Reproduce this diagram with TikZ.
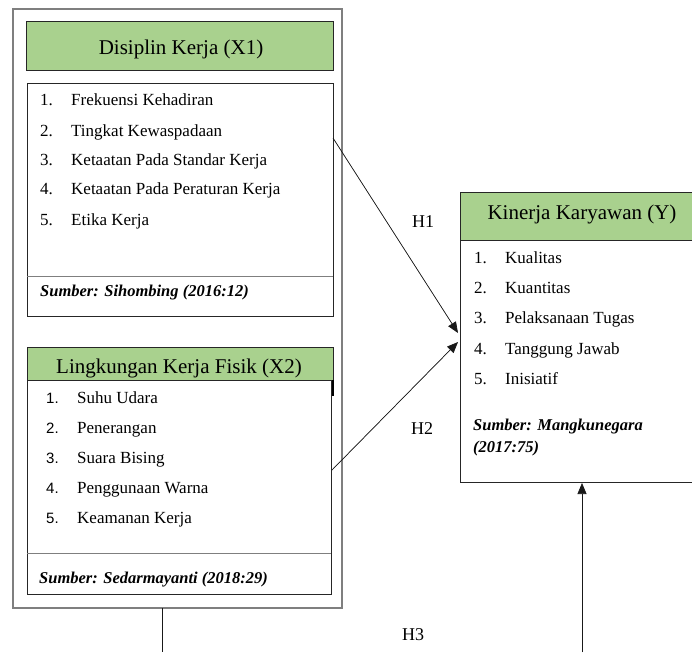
\documentclass[tikz,border=0pt]{standalone}
\usepackage{fontspec}
\setmainfont{Liberation Serif}
\newfontfamily\numsans{Liberation Sans}
\usetikzlibrary{arrows.meta}
\definecolor{hgreen}{HTML}{A9D18E}
\definecolor{gline}{HTML}{7F7F7F}
\tikzset{
  outerbox/.style={draw=gline, line width=1.2pt},
  listbox/.style={draw=black!85, line width=0.8pt},
  hdrbox/.style={draw=black!85, line width=0.8pt, fill=hgreen},
  divider/.style={draw=gline, line width=0.8pt},
  hdrtext/.style={anchor=base, inner sep=0pt, font=\fontsize{21}{21}\selectfont},
  itemtext/.style={anchor=base west, inner sep=0pt, font=\fontsize{17}{17}\selectfont},
  srctext/.style={anchor=base west, inner sep=0pt, font=\fontsize{16.5}{17}\selectfont\bfseries\itshape},
  hlabel/.style={anchor=base, inner sep=0pt, font=\fontsize{18}{18}\selectfont},
  arr/.style={-{Triangle[length=11pt,width=9pt]}, line width=0.7pt, draw=black!90, fill=black},
  plainline/.style={line width=0.7pt, draw=black!90}
}
\begin{document}
\begin{tikzpicture}[x=1pt,y=-1pt]
\useasboundingbox (0,0) rectangle (692,652);
\clip (0,0) rectangle (692,652);
\fill[white] (0,0) rectangle (692,652);

% outer box
\draw[outerbox] (13,9) rectangle (342,608);
\coordinate (outerbot) at (162,608);

% X1
\draw[hdrbox] (26,21) rectangle (333,70);
\node[hdrtext] (x1title) at (181,55) {Disiplin Kerja (X1)};
\draw[listbox] (27,83) rectangle (333,316);
\draw[divider] (27,276) -- (333,276);
\foreach \n/\t/\y in {1/Frekuensi Kehadiran/106, 2/Tingkat Kewaspadaan/137, 3/Ketaatan Pada Standar Kerja/166, 4/Ketaatan Pada Peraturan Kerja/195, 5/Etika Kerja/225}{
  \node[itemtext] (x1n\n) at (40,\y) {\n.};
  \node[itemtext] (x1i\n) at (71,\y) {\t};
}
\node[srctext] (x1src) at (40,296) {Sumber: Sihombing (2016:12)};

% X2
\draw[hdrbox] (27,347) rectangle (333,380);
\node[hdrtext] (x2title) at (179,373) {Lingkungan Kerja Fisik (X2)};
\draw[listbox] (27,380) rectangle (331,594);
\draw[line width=1.4pt, draw=black] (333,380) -- (333,396);
\draw[divider] (27,553) -- (331,553);
\foreach \n/\t/\y in {1/Suhu Udara/403, 2/Penerangan/433, 3/Suara Bising/463, 4/Penggunaan Warna/493, 5/Keamanan Kerja/523}{
  \node[itemtext, font=\fontsize{15}{15}\numsans] (x2n\n) at (46,\y) {\n.};
  \node[itemtext] (x2i\n) at (77,\y) {\t};
}
\node[srctext] (x2src) at (39,583) {Sumber: Sedarmayanti (2018:29)};

% Y
\draw[hdrbox] (460,192) rectangle (700,240);
\node[hdrtext] (ytitle) at (582,219) {Kinerja Karyawan (Y)};
\draw[listbox] (460,240) rectangle (700,482);
\foreach \n/\t/\y in {1/Kualitas/263, 2/Kuantitas/293, 3/Pelaksanaan Tugas/323, 4/Tanggung Jawab/354, 5/Inisiatif/384}{
  \node[itemtext] (yn\n) at (474,\y) {\n.};
  \node[itemtext] (yi\n) at (505,\y) {\t};
}
\node[srctext] (ysrc1) at (473,430) {Sumber: Mangkunegara};
\node[srctext] (ysrc2) at (473,452) {(2017:75)};
\coordinate (ybot) at (582,483);

% connectors
\coordinate (h1s) at (333,138);
\coordinate (h1e) at (458,333);
\coordinate (h2s) at (332,470);
\coordinate (h2e) at (458,342);
\coordinate (h3a) at (162,652);
\coordinate (h3b) at (582,652);
\draw[arr] (h1s) -- (h1e);
\draw[arr] (h2s) -- (h2e);
\draw[plainline] (outerbot) -- (h3a);
\draw[arr] (h3b) -- (ybot);

\node[hlabel] (H1) at (423,227) {H1};
\node[hlabel] (H2) at (422,434) {H2};
\node[hlabel] (H3) at (413,640) {H3};
\end{tikzpicture}
\end{document}
